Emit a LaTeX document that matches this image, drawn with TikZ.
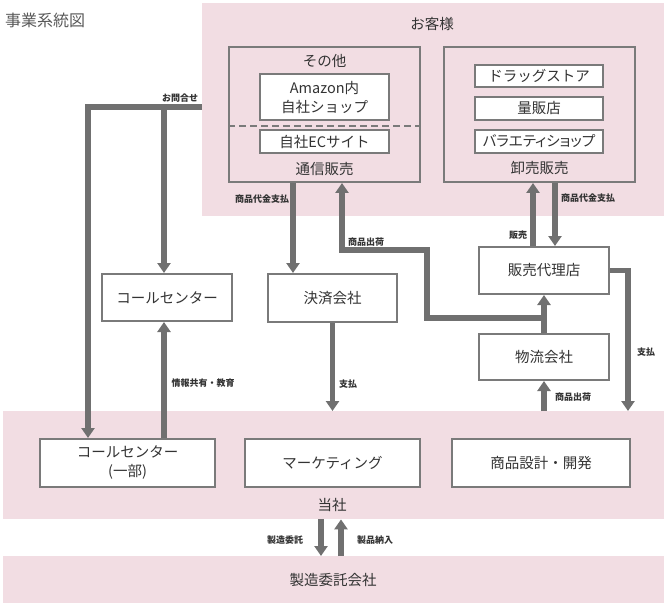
\documentclass[tikz,border=0pt]{standalone}
\usepackage{fontspec}
\setmainfont{Noto Sans CJK JP}
\usepackage{xcolor}
\usetikzlibrary{arrows.meta}

\definecolor{usupink}{HTML}{F2DDE3}
\definecolor{yajirushi}{HTML}{707070}
\definecolor{wakusen}{HTML}{7A7A7A}
\definecolor{sumi}{HTML}{333333}

\tikzset{
	band/.style = {fill = usupink, inner sep = 0pt, anchor = north west},
	waku/.style = {draw = wakusen, line width = 2pt, inner sep = 0pt},
	hako/.style = {waku, fill = white, text = sumi, align = center,
		font = \fontsize{14.5}{19}\selectfont},
	futo/.style = {draw = yajirushi, line width = 5.5pt,
		-{Triangle[width = 13pt, length = 10pt]}},
	midashi/.style = {text = sumi, inner sep = 0pt, font = \fontsize{14.5}{17}\selectfont},
	chiisai/.style = {text = sumi, inner sep = 0pt, font = \fontsize{9}{10}\selectfont\bfseries}
}

\begin{document}
\begin{tikzpicture}[x = 1pt, y = -1pt]
		\useasboundingbox (0,0) rectangle (667,607);
		
		%title
		\node[anchor = west, text = black!65, inner sep = 0pt, font = \fontsize{16}{18}\selectfont] (daimei) at (5,20) {事業系統図};
		
		%pink bands
		\node[band, minimum width = 462pt, minimum height = 213pt] (kyaku) at (202,3) {};
		\node[band, minimum width = 661pt, minimum height = 108pt] (tosha) at (3,411) {};
		\node[band, minimum width = 661pt, minimum height = 47pt] (itaku) at (3,556) {};
		
		\node[midashi] (kyakumei) at (432,24) {お客様};
		\node[midashi] (toshamei) at (332,505) {当社};
		\node[midashi] (itakumei) at (333,580) {製造委託会社};
		
		%mail order
		\node[waku, minimum width = 191pt, minimum height = 135pt] (tsuhan) at (324.5,114.5) {};
		\node[midashi] (sonota) at (324.5,61) {その他};
		\node[midashi] (tsuhanmei) at (324.5,169) {通信販売};
		\node[hako, minimum width = 129pt, minimum height = 46pt] (amazon) at (324.5,97.5) {Amazon内\\自社ショップ};
		\node[hako, minimum width = 129pt, minimum height = 23pt] (ec) at (324.5,141.5) {自社ECサイト};
		\coordinate (tensen) at (0,126);
		\draw[wakusen, line width = 1.5pt, dash pattern = on 7pt off 4pt] (tsuhan.west |- tensen) -- (tsuhan.east |- tensen);
		
		%wholesale
		\node[waku, minimum width = 191pt, minimum height = 135pt] (oroshi) at (539.5,114.5) {};
		\node[hako, minimum width = 128pt, minimum height = 22pt] (drug) at (539,76) {ドラッグストア};
		\node[hako, minimum width = 128pt, minimum height = 23pt] (ryohan) at (539,108.5) {量販店};
		\node[hako, minimum width = 128pt, minimum height = 23pt] (variety) at (539,141.5) {\addfontfeature{RawFeature=+palt}バラエティショップ};
		\node[midashi] (oroshimei) at (539.5,168) {卸売販売};
		
		%middle boxes
		\node[hako, minimum width = 130pt, minimum height = 47pt] (cc) at (167,297.5) {コールセンター};
		\node[hako, minimum width = 129pt, minimum height = 48pt] (kessai) at (332.5,298) {決済会社};
		\node[hako, minimum width = 130pt, minimum height = 47pt] (dairiten) at (544,270.5) {販売代理店};
		\node[hako, minimum width = 130pt, minimum height = 46pt] (butsuryu) at (544,357) {物流会社};
		
		%our company
		\node[hako, minimum width = 175pt, minimum height = 48pt] (ccichibu) at (127.5,463) {コールセンター\\(一部)};
		\node[hako, minimum width = 175pt, minimum height = 48pt] (marketing) at (332.5,463) {マーケティング};
		\node[hako, minimum width = 178pt, minimum height = 48pt] (kaihatsu) at (541,463) {商品設計・開発};
		
		%x positions of the arrows
		\coordinate (toi) at (202,107);
		\coordinate (xL) at (88,0);
		\coordinate (xC) at (164,0);
		\coordinate (xK) at (293,0);
		\coordinate (xS) at (342,0);
		\coordinate (ore) at (427,250);
		\coordinate (xH) at (533,0);
		\coordinate (xD) at (555,0);
		\coordinate (xR) at (628,0);
		\coordinate (xA) at (321,0);
		\coordinate (xB) at (341,0);
		
		%arrows
		\draw[futo] (toi) -| (ccichibu.north -| xL);
		\draw[futo] (toi -| xC) -- (cc.north -| xC);
		\draw[futo] (ccichibu.north -| xC) -- (cc.south -| xC);
		\draw[futo] (tsuhan.south -| xK) -- (kessai.north -| xK);
		\draw[futo] (kessai.south) -- (kessai.south |- tosha.north);
		\draw[futo] (butsuryu.north) -- (dairiten.south);
		\draw[futo] ([yshift = 15pt]butsuryu.north) -| (ore) -| (tsuhan.south -| xS);
		\draw[futo] (dairiten.north -| xH) -- (oroshi.south -| xH);
		\draw[futo] (oroshi.south -| xD) -- (dairiten.north -| xD);
		\draw[futo] (dairiten.east) -| (tosha.north -| xR);
		\draw[futo] (tosha.north -| butsuryu.south) -- (butsuryu.south);
		\draw[futo] (tosha.south -| xA) -- (itaku.north -| xA);
		\draw[futo] (itaku.north -| xB) -- (tosha.south -| xB);
		
		%arrow labels
		\node[chiisai] (l-toi) at (180,98) {お問合せ};
		\node[chiisai] (l-daikin1) at (262,199) {商品代金支払};
		\node[chiisai] (l-kyoyu) at (203,383) {情報共有・教育};
		\node[chiisai] (l-shiharai1) at (348,384) {支払};
		\node[chiisai] (l-shukka1) at (366,242) {商品出荷};
		\node[chiisai] (l-hanbai) at (518,235) {販売};
		\node[chiisai] (l-daikin2) at (588,198) {商品代金支払};
		\node[chiisai] (l-shiharai2) at (646,352) {支払};
		\node[chiisai] (l-shukka2) at (573,397) {商品出荷};
		\node[chiisai] (l-itaku) at (285,540) {製造委託};
		\node[chiisai] (l-nonyu) at (375,540) {製品納入};
	\end{tikzpicture}
\end{document}
